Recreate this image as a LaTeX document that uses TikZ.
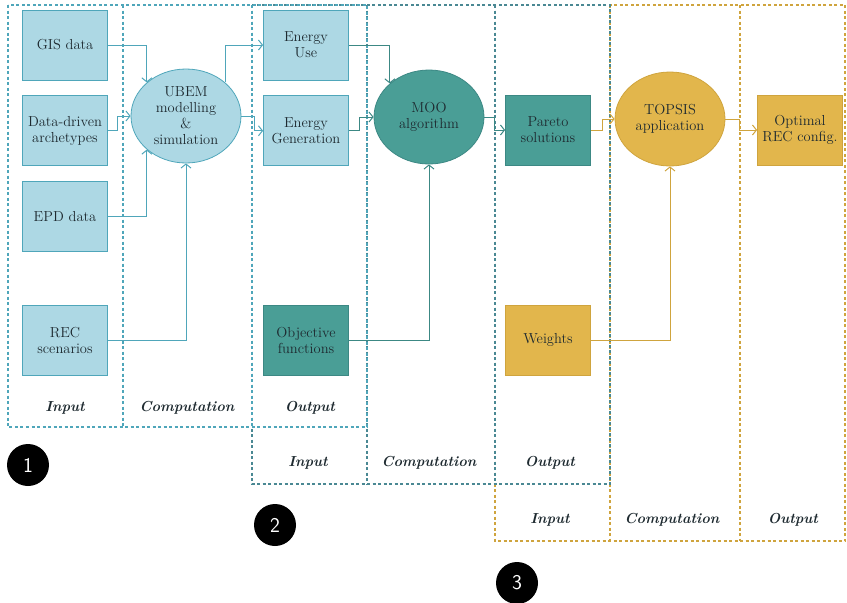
\documentclass[tikz,border=0pt]{standalone}
\usepackage{tikz}
\usetikzlibrary{shapes.geometric,arrows.meta,positioning}
\definecolor{recblue}{HTML}{ADD8E4}
\definecolor{recblueline}{HTML}{4FA6BA}
\definecolor{recteal}{HTML}{4A9E96}
\definecolor{rectealline}{HTML}{3C8884}
\definecolor{recgold}{HTML}{E2B64C}
\definecolor{recgoldline}{HTML}{CFA43E}
\definecolor{recslate}{HTML}{4A8893}
\definecolor{rectext}{HTML}{1E2A30}
\tikzset{
  recbox/.style={
    rectangle, draw=recblueline, fill=recblue, line width=0.8pt,
    minimum width=85pt, minimum height=70pt,
    align=center, font=\fontsize{14.5}{16}\selectfont, text=rectext, inner sep=2pt
  },
  recboxteal/.style={recbox, draw=rectealline, fill=recteal},
  recboxgold/.style={recbox, draw=recgoldline, fill=recgold},
  recproc/.style={
    ellipse, draw=recblueline, fill=recblue, line width=0.8pt,
    minimum width=110pt, minimum height=94pt,
    align=center, font=\fontsize{14.5}{16}\selectfont, text=rectext, inner sep=0pt
  },
  recprocteal/.style={recproc, draw=rectealline, fill=recteal},
  recprocgold/.style={recproc, draw=recgoldline, fill=recgold},
  recarrow/.style={-{Straight Barb[length=4pt,width=10pt]}, line width=1pt, draw=#1},
  recarrow/.default=recblueline,
  phaseframe/.style={draw=#1, line width=1.3pt, dash pattern=on 3pt off 2.5pt},
  phaselabel/.style={font=\fontsize{14.5}{16}\selectfont\bfseries\itshape, text=rectext},
  stagenum/.style={circle, fill=black, minimum size=42pt, inner sep=0pt,
    text=white, font=\sffamily\fontsize{21}{23}\selectfont},
}
\begin{document}
\begin{tikzpicture}[x=1pt, y=-1pt]
  \useasboundingbox (0,0) rectangle (847,603);

  % stage frames
  \draw[phaseframe=recgoldline] (495,5) rectangle (845,541);
  \draw[phaseframe=recgoldline] (610,5) -- (610,541) (740,5) -- (740,541);
  \draw[phaseframe=recslate] (252,5) rectangle (610,484);
  \draw[phaseframe=recslate] (367,5) -- (367,484) (495,5) -- (495,484);
  \draw[phaseframe=recblueline] (8,5) rectangle (367,427);
  \draw[phaseframe=recblueline] (123,5) -- (123,427) (252,5) -- (252,427);

  % stage 1
  \node (gis) [recbox] at (65,45) {GIS data};
  \node (arch) [recbox, below=15pt of gis] {Data-driven\\archetypes};
  \node (epd) [recbox, below=15pt of arch] {EPD data};
  \node (scen) [recbox] at (65,340) {REC\\scenarios};
  \node (ubem) [recproc] at (186,116) {UBEM\\modelling\\\&\\simulation};

  % stage 2
  \node (euse) [recbox] at (306,45) {Energy\\Use};
  \node (egen) [recbox, below=15pt of euse] {Energy\\Generation};
  \node (obj) [recboxteal] at (306,340) {Objective\\functions};
  \node (moo) [recprocteal] at (429,117) {MOO\\algorithm};

  % stage 3
  \node (pareto) [recboxteal] at (548,130) {Pareto\\solutions};
  \node (wts) [recboxgold] at (548,340) {Weights};
  \node (topsis) [recprocgold] at (670,119) {TOPSIS\\application};
  \node (optrec) [recboxgold] at (800,130) {Optimal\\REC config.};

  % phase labels
  \node[phaselabel] at (65,408) {Input};
  \node[phaselabel] at (187,408) {Computation};
  \node[phaselabel] at (310,408) {Output};
  \node[phaselabel] at (308,463) {Input};
  \node[phaselabel] at (429,463) {Computation};
  \node[phaselabel] at (550,463) {Output};
  \node[phaselabel] at (550,520) {Input};
  \node[phaselabel] at (672,520) {Computation};
  \node[phaselabel] at (793,520) {Output};

  \node (s1) [stagenum] at (28,465) {1};
  \node (s2) [stagenum] at (275,525) {2};
  \node (s3) [stagenum] at (517,583) {3};

  % connectors
  \draw[recarrow] (gis.east) -| (ubem.north west);
  \draw[recarrow] (arch.east) -- ++(10,0) |- (ubem.west);
  \draw[recarrow] (epd.east) -| (ubem.south west);
  \draw[recarrow] (scen.east) -| (ubem.south);
  \draw[recarrow] (ubem.north east) |- (euse.west);
  \draw[recarrow] (ubem.east) -- ++(13,0) |- (egen.west);
  \draw[recarrow=rectealline] (euse.east) -| (moo.north west);
  \draw[recarrow=rectealline] (egen.east) -- ++(11,0) |- (moo.west);
  \draw[recarrow=rectealline] (obj.east) -| (moo.south);
  \draw[recarrow=rectealline] (moo.east) -- ++(10,0) |- (pareto.west);
  \draw[recarrow=recgoldline] (pareto.east) -- ++(12,0) |- (topsis.west);
  \draw[recarrow=recgoldline] (topsis.east) -- ++(14,0) |- (optrec.west);
  \draw[recarrow=recgoldline] (wts.east) -| (topsis.south);
\end{tikzpicture}
\end{document}
